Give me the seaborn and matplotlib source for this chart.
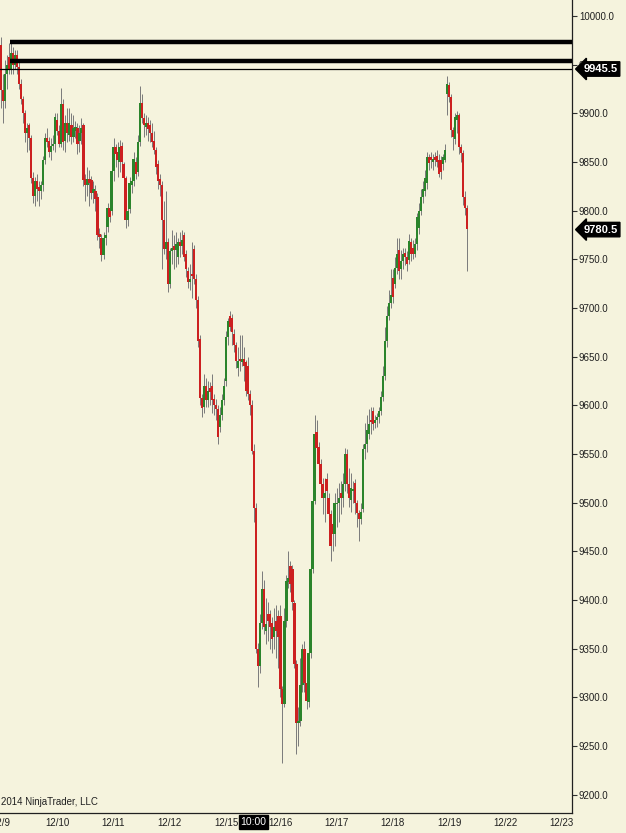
import matplotlib
matplotlib.use("Agg")
import matplotlib.pyplot as plt
import matplotlib.transforms as mtransforms
import numpy as np
import pandas as pd
import seaborn as sns

# hourly-ish bars (12/9 .. 12/19)
opens = [
    9970, 9924, 9913, 9940, 9958, 9945, 9962, 9950, 9960, 9948,
    9930, 9915, 9900, 9880, 9888, 9875, 9834, 9815, 9830, 9824,
    9820, 9826, 9852, 9875, 9872, 9860, 9866, 9868, 9893, 9882,
    9868, 9910, 9872, 9890, 9878, 9888, 9876, 9882, 9885,
    9872, 9880, 9888, 9832, 9826, 9832, 9831, 9818, 9820, 9814,
    9776, 9772, 9754, 9772, 9783, 9803, 9800, 9841, 9865, 9860,
    9850, 9866, 9848, 9834, 9790, 9802, 9826, 9830, 9850, 9840,
    9870, 9911, 9895, 9886, 9890, 9888, 9880, 9872, 9862, 9848,
    9832, 9826, 9790, 9761, 9768, 9725, 9758, 9764, 9760, 9752,
    9768, 9764, 9775, 9755, 9738, 9727, 9735, 9761, 9730, 9708,
    9668, 9607, 9598, 9620, 9605, 9618, 9620, 9606, 9600, 9596,
    9578, 9590, 9605, 9625, 9670, 9692, 9690, 9673, 9662, 9638,
    9648, 9644, 9648, 9644, 9640, 9612, 9600, 9553, 9494, 9350,
    9332, 9376, 9411, 9368, 9385, 9385, 9376, 9362, 9378, 9383,
    9383, 9308, 9293, 9378, 9418, 9435, 9432, 9397, 9334, 9273,
    9276, 9313, 9350, 9315, 9295, 9345, 9432, 9502, 9572, 9557,
    9540, 9519, 9505, 9524, 9505, 9488, 9478, 9468, 9498, 9500,
    9510, 9505, 9519, 9550, 9519, 9503, 9512, 9520, 9500, 9489,
    9483, 9493, 9555, 9560, 9570, 9585, 9594, 9582, 9585, 9588,
    9594, 9608, 9630, 9666, 9692, 9705, 9731, 9725, 9741, 9759,
    9740, 9748, 9756, 9752, 9749, 9768, 9762, 9755, 9766, 9782,
    9800, 9814, 9820, 9828, 9855, 9855, 9850, 9855, 9856, 9852,
    9852, 9848, 9852, 9920, 9929, 9917, 9883, 9874, 9893, 9898,
    9865, 9859, 9814, 9803,
]
closes = [
    9924, 9913, 9940, 9950, 9945, 9962, 9950, 9960, 9948, 9930,
    9915, 9900, 9880, 9885, 9875, 9834, 9815, 9830, 9822, 9820,
    9826, 9852, 9875, 9870, 9860, 9866, 9868, 9896, 9882, 9868,
    9910, 9870, 9890, 9880, 9890, 9876, 9885, 9886, 9868,
    9880, 9885, 9831, 9826, 9832, 9828, 9818, 9822, 9812, 9775,
    9773, 9754, 9772, 9775, 9803, 9793, 9841, 9865, 9858, 9852,
    9865, 9850, 9834, 9790, 9800, 9828, 9830, 9853, 9838, 9870,
    9911, 9895, 9888, 9890, 9884, 9880, 9870, 9862, 9845, 9830,
    9826, 9790, 9761, 9768, 9725, 9758, 9762, 9760, 9766, 9768,
    9764, 9770, 9752, 9740, 9727, 9730, 9733, 9730, 9708, 9666,
    9607, 9597, 9620, 9605, 9615, 9614, 9605, 9600, 9596, 9567,
    9590, 9605, 9620, 9670, 9687, 9680, 9675, 9662, 9645, 9645,
    9645, 9648, 9640, 9615, 9612, 9600, 9553, 9494, 9350, 9332,
    9376, 9411, 9372, 9375, 9378, 9372, 9360, 9372, 9368, 9362,
    9308, 9293, 9378, 9419, 9422, 9416, 9398, 9334, 9273, 9276,
    9313, 9350, 9315, 9296, 9345, 9432, 9502, 9570, 9556, 9540,
    9519, 9505, 9510, 9512, 9488, 9455, 9468, 9500, 9500, 9505,
    9505, 9519, 9550, 9519, 9505, 9515, 9514, 9500, 9489, 9483,
    9490, 9555, 9560, 9575, 9581, 9583, 9581, 9585, 9588, 9594,
    9608, 9630, 9666, 9692, 9705, 9713, 9711, 9741, 9755, 9738,
    9748, 9755, 9752, 9745, 9769, 9755, 9755, 9766, 9793, 9800,
    9814, 9822, 9834, 9855, 9849, 9852, 9853, 9852, 9850, 9838,
    9840, 9855, 9862, 9930, 9917, 9883, 9876, 9896, 9898, 9865,
    9859, 9814, 9803, 9781,
]
highs = [
    9978, 9940, 9955, 9960, 9972, 9975, 9968, 9965, 9965, 9955,
    9935, 9918, 9903, 9890, 9890, 9878, 9840, 9835, 9838, 9830,
    9830, 9856, 9880, 9885, 9876, 9875, 9878, 9900, 9900, 9888,
    9926, 9915, 9898, 9905, 9905, 9900, 9898, 9892, 9890,
    9888, 9895, 9890, 9838, 9845, 9842, 9836, 9830, 9826, 9818,
    9782, 9776, 9778, 9790, 9808, 9806, 9850, 9875, 9868, 9870,
    9873, 9870, 9850, 9836, 9812, 9835, 9840, 9860, 9855, 9878,
    9928, 9920, 9900, 9898, 9896, 9893, 9890, 9882, 9865, 9852,
    9838, 9830, 9810, 9820, 9772, 9762, 9780, 9775, 9778, 9772,
    9778, 9780, 9778, 9760, 9742, 9745, 9768, 9765, 9735, 9712,
    9672, 9612, 9632, 9628, 9625, 9624, 9632, 9612, 9606, 9600,
    9598, 9612, 9628, 9676, 9690, 9697, 9694, 9678, 9665, 9660,
    9672, 9672, 9660, 9646, 9650, 9616, 9605, 9560, 9500, 9356,
    9385, 9430, 9420, 9402, 9398, 9390, 9382, 9392, 9395, 9390,
    9395, 9312, 9392, 9426, 9450, 9440, 9436, 9400, 9338, 9290,
    9340, 9355, 9358, 9320, 9350, 9436, 9506, 9590, 9585, 9562,
    9545, 9525, 9525, 9530, 9510, 9492, 9500, 9510, 9515, 9520,
    9522, 9530, 9556, 9555, 9535, 9530, 9522, 9524, 9503, 9492,
    9500, 9560, 9582, 9590, 9596, 9598, 9598, 9590, 9592, 9598,
    9615, 9640, 9680, 9702, 9718, 9740, 9740, 9752, 9772, 9772,
    9760, 9762, 9762, 9758, 9776, 9772, 9770, 9772, 9798, 9808,
    9822, 9830, 9842, 9860, 9858, 9860, 9858, 9860, 9862, 9858,
    9856, 9858, 9868, 9938, 9932, 9920, 9886, 9900, 9902, 9900,
    9868, 9862, 9820, 9806,
]
lows = [
    9905, 9890, 9905, 9925, 9940, 9940, 9940, 9945, 9940, 9925,
    9910, 9890, 9870, 9860, 9862, 9828, 9808, 9805, 9810, 9805,
    9812, 9820, 9848, 9865, 9855, 9852, 9862, 9860, 9878, 9865,
    9865, 9862, 9860, 9870, 9872, 9868, 9870, 9875, 9858,
    9860, 9868, 9825, 9810, 9815, 9805, 9812, 9808, 9800, 9770,
    9762, 9748, 9750, 9765, 9778, 9788, 9795, 9830, 9845, 9835,
    9840, 9845, 9828, 9782, 9784, 9798, 9818, 9825, 9832, 9836,
    9866, 9890, 9876, 9878, 9872, 9870, 9865, 9858, 9838, 9822,
    9815, 9740, 9755, 9750, 9716, 9720, 9745, 9740, 9742, 9745,
    9752, 9755, 9748, 9732, 9720, 9718, 9710, 9725, 9700, 9660,
    9600, 9588, 9592, 9598, 9598, 9600, 9592, 9590, 9585, 9560,
    9572, 9585, 9600, 9620, 9662, 9676, 9662, 9655, 9638, 9630,
    9635, 9640, 9625, 9610, 9605, 9590, 9550, 9480, 9345, 9310,
    9325, 9370, 9365, 9355, 9358, 9350, 9345, 9350, 9340, 9330,
    9300, 9232, 9290, 9372, 9412, 9408, 9390, 9330, 9242, 9250,
    9270, 9305, 9305, 9288, 9290, 9340, 9428, 9498, 9548, 9520,
    9512, 9488, 9480, 9500, 9470, 9440, 9450, 9455, 9475, 9480,
    9488, 9495, 9512, 9510, 9495, 9490, 9500, 9488, 9475, 9460,
    9478, 9490, 9545, 9552, 9565, 9570, 9575, 9577, 9578, 9582,
    9590, 9604, 9626, 9660, 9688, 9700, 9705, 9720, 9735, 9730,
    9730, 9740, 9744, 9738, 9745, 9748, 9750, 9752, 9760, 9776,
    9795, 9808, 9815, 9822, 9842, 9844, 9842, 9846, 9845, 9835,
    9832, 9842, 9850, 9898, 9912, 9876, 9862, 9868, 9880, 9858,
    9850, 9806, 9795, 9738,
]

# session starts (bar index) and their labels
day_ticks = [0, 28, 56, 84, 112, 139, 167, 195, 223, 251, 279]
day_labels = ["12/9", "12/10", "12/11", "12/12", "12/15", "12/16",
              "12/17", "12/18", "12/19", "12/22", "12/23"]
price_ticks = [9200, 9250, 9300, 9350, 9400, 9450, 9500, 9550, 9600,
               9650, 9700, 9750, 9800, 9850, 9900, 9950, 10000]

# drawn levels
thick_levels = [9973.5, 9953.5]
thick_start = 4.3
thin_level = 9945.5
last_price = 9780.5
cursor_bar = 125.5
cursor_label = "10:00"

BG = "#F5F3DD"
UP = "#2B842B"
DOWN = "#CC2020"
WICK = "#7A7A7A"

sns.set_theme(style="white", rc={"axes.facecolor": BG, "figure.facecolor": BG})
plt.rcParams["font.family"] = ["Liberation Sans", "DejaVu Sans"]

df = pd.DataFrame({"open": opens, "high": highs, "low": lows, "close": closes})
df["bar"] = np.arange(len(df))
df["up"] = df["close"] > df["open"]
df["body_lo"] = df[["open", "close"]].min(axis=1)
df["body_h"] = (df["close"] - df["open"]).abs().clip(lower=1.0)

fig = plt.figure(figsize=(6.26, 8.33), dpi=100)
ax = fig.add_axes([0, 1 - 813 / 833, 572 / 626, 813 / 833])
ax.set_facecolor(BG)

# wicks then bodies
ax.vlines(df["bar"], df["low"], df["high"], color=WICK, lw=0.7, zorder=2)
colors = np.where(df["up"], UP, DOWN)
ax.bar(df["bar"], df["body_h"], bottom=df["body_lo"], width=1.15,
       color=colors, linewidth=0, zorder=3)

xmax = 284.1
ax.hlines(thick_levels, thick_start, xmax, color="black", lw=3.2, zorder=4)
ax.axhline(thin_level, color="black", lw=0.9, zorder=4)

ax.set_xlim(-0.5, xmax)
ax.set_ylim(9181, 10016.4)

ax.yaxis.tick_right()
ax.set_yticks(price_ticks)
ax.set_yticklabels([f"{p:.1f}" for p in price_ticks])
ax.set_xticks(day_ticks)
ax.set_xticklabels(day_labels)
ax.tick_params(axis="both", which="both", direction="out", length=3.5, width=0.8,
               color="#303030", labelcolor="#202020", labelsize=7, pad=1.5)
ax.tick_params(axis="x", length=3, pad=0.3)
ax.tick_params(axis="y", left=False, right=True, labelleft=False, labelright=True)

for side in ["left", "top"]:
    ax.spines[side].set_visible(False)
for side in ["right", "bottom"]:
    ax.spines[side].set_visible(True)
    ax.spines[side].set_color("#202020")
    ax.spines[side].set_linewidth(0.9)

ax.set_xlabel("")
ax.set_ylabel("")

# price flags on the right scale
ytrans = mtransforms.blended_transform_factory(ax.transAxes, ax.transData)
for val in [thin_level, last_price]:
    ax.text(1.02, val, f"{val:.1f}", transform=ytrans, ha="left", va="center",
            color="white", fontsize=8, fontweight="bold", zorder=10,
            clip_on=False,
            bbox=dict(boxstyle="larrow,pad=0.2", fc="black", ec="black"))

# time cursor label on the time axis
xtrans = mtransforms.blended_transform_factory(ax.transData, fig.transFigure)
ax.text(cursor_bar, 1 - 822 / 833, cursor_label, transform=xtrans,
        ha="center", va="center", color="white", fontsize=7.5, zorder=10,
        clip_on=False,
        bbox=dict(boxstyle="square,pad=0.15", fc="black", ec="black"))

ax.text(0.001, 0.013, "2014 NinjaTrader, LLC", transform=ax.transAxes,
        ha="left", va="center", fontsize=7, color="#202020")

fig.savefig("out.png", dpi=100, facecolor=BG)
